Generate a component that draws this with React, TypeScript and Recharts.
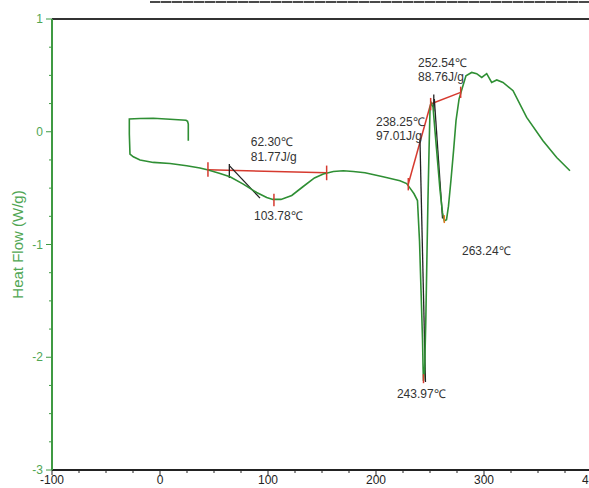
import React from 'react';
import {
  ComposedChart,
  Line,
  Scatter,
  XAxis,
  YAxis,
  ReferenceLine,
} from 'recharts';

// ---- DSC curve (temperature °C, heat flow W/g) ----
const tempC = [
  26.2, 26.2, 26.2, 25.5, 24.1, 9.3, -6.2, -18.5, -28.4, -28.4, -27.8, -24.7,
  -18.5, -6.2, 9.3, 24.7, 37.0, 44.7, 55.6, 64.8, 77.1, 89.5, 98.8, 104.5,
  112.0, 122.0, 132.0, 143.0, 151.2, 160.5, 169.7, 179.0, 189.8, 206.5, 222.2,
  228.4, 231.5, 235.2, 238.4, 240.3, 241.7, 243.1, 243.6, 243.97, 245.0, 246.1,
  247.1, 248.1, 249.1, 250.0, 250.9, 252.8, 254.6, 257.0, 259.3, 261.6, 263.24,
  265.3, 267.1, 269.4, 271.8, 274.1, 276.9, 279.6, 283.3, 288.6, 293.2, 297.9,
  302.5, 307.1, 311.8, 317.6, 326.9, 339.5, 354.6, 367.3, 379.6,
];
const heatFlow = [
  -0.08, 0.009, 0.068, 0.093, 0.102, 0.111, 0.12, 0.117, 0.113, -0.02, -0.198,
  -0.222, -0.251, -0.272, -0.281, -0.302, -0.322, -0.34, -0.37, -0.399, -0.464,
  -0.539, -0.583, -0.6, -0.6, -0.565, -0.49, -0.41, -0.375, -0.352, -0.346,
  -0.352, -0.364, -0.399, -0.435, -0.46, -0.5, -0.55, -0.61, -0.97, -1.41,
  -1.85, -2.1, -2.21, -2.12, -1.68, -1.14, -0.61, -0.17, 0.19, 0.26, 0.22, 0.01,
  -0.26, -0.52, -0.72, -0.79, -0.78, -0.66, -0.43, -0.17, 0.1, 0.29, 0.38,
  0.497, 0.526, 0.515, 0.482, 0.515, 0.437, 0.459, 0.437, 0.364, 0.127, -0.08,
  -0.228, -0.346,
];

// ---- axis ticks ----
const xTicks = [
  -100, -75, -50, -25, 0, 25, 50, 75, 100, 125, 150, 175, 200, 225, 250, 275,
  300, 325, 350, 375, 400,
];
const xMajor = [-100, 0, 100, 200, 300, 400];
const yTicks = [
  -3, -2.75, -2.5, -2.25, -2, -1.75, -1.5, -1.25, -1, -0.75, -0.5, -0.25, 0,
  0.25, 0.5, 0.75, 1,
];
const yMajor = [-3, -2, -1, 0, 1];

// ---- analysis annotations (data coordinates) ----
const redSegments: [number, number, number, number][] = [
  [44.4, -0.337, 154.3, -0.364],
  [229.9, -0.464, 250.6, 0.246],
  [250.6, 0.246, 278.4, 0.349],
];
const redTicks: [number, number, number][] = [
  // x, yTop, yBottom
  [44.4, -0.27, -0.4],
  [154.3, -0.3, -0.43],
  [105.5, -0.55, -0.66],
  [229.9, -0.41, -0.52],
  [250.6, 0.3, 0.19],
  [278.4, 0.4, 0.3],
  [243.97, -2.15, -2.23],
];
const orangeTicks: [number, number, number][] = [[263.24, -0.74, -0.81]];
const blackSegments: [number, number, number, number][] = [
  [64.2, -0.3, 92.6, -0.589],
  [64.2, -0.285, 64.2, -0.41],
  [240.7, -0.071, 245.8, -2.22],
  [254.0, 0.29, 261.6, -0.77],
  [253.5, 0.33, 253.5, 0.18],
];

const annotationTexts = [
  '62.30℃',
  '81.77J/g',
  '103.78℃',
  '252.54℃',
  '88.76J/g',
  '238.25℃',
  '97.01J/g',
  '263.24℃',
  '243.97℃',
];
const annotationX = [84, 84, 87, 238.9, 238.9, 200, 200, 279.6, 219.4];
const annotationY = [-0.124, -0.257, -0.78, 0.577, 0.453, 0.049, -0.071, -1.096, -2.365];

const curveData = tempC.map((x, i) => ({ x, y: heatFlow[i] }));
const labelData = annotationTexts.map((text, i) => ({
  x: annotationX[i],
  y: annotationY[i],
  text,
}));

const GREEN = '#2f8f34';
const AXIS_GREEN = '#3f9a43';
const FONT = '"Liberation Sans", Arial, Helvetica, sans-serif';

const XTick = (props: any) => {
  const { x, y, payload } = props;
  const major = xMajor.includes(payload.value);
  return (
    <g>
      <line x1={x} x2={x} y1={y} y2={y + (major ? 5 : 3)} stroke="#222" strokeWidth={1} />
      {major && (
        <text x={x} y={y + 14} textAnchor="middle" fontSize={12} fill="#222" fontFamily={FONT}>
          {payload.value}
        </text>
      )}
    </g>
  );
};

const YTick = (props: any) => {
  const { x, y, payload } = props;
  const major = yMajor.includes(payload.value);
  return (
    <g>
      <line x1={x - (major ? 6 : 3)} x2={x} y1={y} y2={y} stroke={AXIS_GREEN} strokeWidth={1} />
      {major && (
        <text x={x - 9} y={y + 4} textAnchor="end" fontSize={12} fill="#4fa653" fontFamily={FONT}>
          {payload.value}
        </text>
      )}
    </g>
  );
};

const TextShape = (props: any) => {
  const { cx, cy, payload } = props;
  return (
    <text x={cx} y={cy} fontSize={12} fill="#333" fontFamily={FONT}>
      {payload.text}
    </text>
  );
};

const YLabel = (props: any) => {
  const vb = props.viewBox || { x: 0, y: 19, width: 52, height: 451 };
  const cx = vb.x + 17;
  const cy = vb.y + vb.height / 2;
  return (
    <text
      x={cx}
      y={cy}
      transform={`rotate(-90 ${cx} ${cy})`}
      textAnchor="middle"
      dominantBaseline="central"
      fontSize={15}
      fill="#4fa653"
      fontFamily={FONT}
    >
      Heat Flow (W/g)
    </text>
  );
};

export default function App() {
  return (
    <div style={{ position: 'relative', width: 589, height: 488, overflow: 'hidden', background: '#fff' }}>
      <style>{'body{margin:0}'}</style>
      <div
        style={{
          position: 'absolute',
          top: 1,
          left: 150,
          width: 439,
          height: 2,
          background: 'repeating-linear-gradient(90deg, #4a4a4a 0px, #4a4a4a 10px, #aaa 10px, #aaa 11px)',
        }}
      />
      <ComposedChart
        width={620}
        height={488}
        margin={{ top: 19, right: 28, bottom: 0, left: 0 }}
      >
        <XAxis
          type="number"
          dataKey="x"
          domain={[-100, 400]}
          ticks={xTicks}
          interval={0}
          tickLine={false}
          tickSize={0}
          tickMargin={0}
          height={18}
          allowDataOverflow
          axisLine={{ stroke: '#222', strokeWidth: 2 }}
          tick={<XTick />}
        />
        <YAxis
          type="number"
          dataKey="y"
          domain={[-3, 1]}
          ticks={yTicks}
          interval={0}
          tickLine={false}
          tickSize={0}
          tickMargin={0}
          width={52}
          allowDataOverflow
          axisLine={{ stroke: AXIS_GREEN, strokeWidth: 2 }}
          tick={<YTick />}
          label={{ content: (p: any) => <YLabel {...p} /> }}
        />
        <ReferenceLine y={1} stroke="#333" strokeWidth={2} ifOverflow="visible" />
        {redSegments.map((s, i) => (
          <ReferenceLine
            key={`rs${i}`}
            segment={[{ x: s[0], y: s[1] }, { x: s[2], y: s[3] }]}
            stroke="#d63a2f"
            strokeWidth={1.5}
            ifOverflow="visible"
          />
        ))}
        {blackSegments.map((s, i) => (
          <ReferenceLine
            key={`bs${i}`}
            segment={[{ x: s[0], y: s[1] }, { x: s[2], y: s[3] }]}
            stroke="#222"
            strokeWidth={1.3}
            ifOverflow="visible"
          />
        ))}
        <Line
          data={curveData}
          dataKey="y"
          type="linear"
          stroke={GREEN}
          strokeWidth={1.6}
          dot={false}
          activeDot={false}
          isAnimationActive={false}
        />
        {redTicks.map((t, i) => (
          <ReferenceLine
            key={`rt${i}`}
            segment={[{ x: t[0], y: t[1] }, { x: t[0], y: t[2] }]}
            stroke="#d63a2f"
            strokeWidth={1.5}
            ifOverflow="visible"
          />
        ))}
        {orangeTicks.map((t, i) => (
          <ReferenceLine
            key={`ot${i}`}
            segment={[{ x: t[0], y: t[1] }, { x: t[0], y: t[2] }]}
            stroke="#e07a20"
            strokeWidth={1.5}
            ifOverflow="visible"
          />
        ))}
        <Scatter data={labelData} dataKey="y" shape={<TextShape />} isAnimationActive={false} />
      </ComposedChart>
    </div>
  );
}
